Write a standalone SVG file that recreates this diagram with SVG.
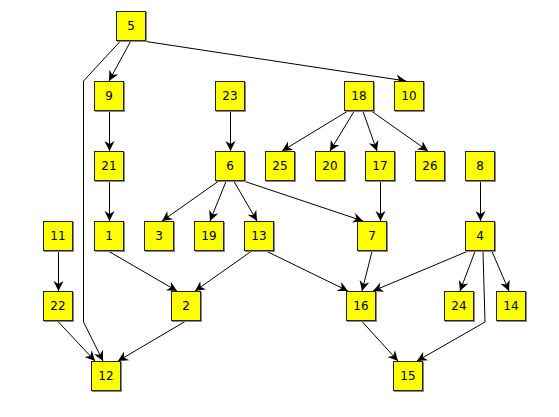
<svg xmlns="http://www.w3.org/2000/svg" width="559" height="417" viewBox="0 0 559 417">
<defs>
<marker id="arr" markerUnits="userSpaceOnUse" markerWidth="12" markerHeight="12" viewBox="-1 -6 12 12" refX="10" refY="0" orient="auto">
<path d="M0,-5 L10,0 L0,5 L3,0 z" fill="#000"/>
</marker>
</defs>
<style>
.n rect.s{fill:#888;stroke:none}
.n rect.b{fill:#ffff00;stroke:#222;stroke-width:1}
.n text{font-family:"DejaVu Sans",sans-serif;font-size:12px;fill:#000;text-anchor:middle;dominant-baseline:central}
#edges path,#edges line,#edges polyline{stroke:#000;stroke-width:1;fill:none}
#edges .a{marker-end:url(#arr)}
</style>
<rect width="559" height="417" fill="#fff"/>
<g id="edges">
<line class="a" x1="130.5" y1="41.5" x2="109" y2="81"/>
<polyline class="a" points="120,41.5 83.5,81 83.5,322 103,361"/>
<line class="a" x1="146" y1="41.5" x2="406" y2="81"/>
<line class="a" x1="109.5" y1="111" x2="109.5" y2="151"/>
<line class="a" x1="109.5" y1="181" x2="109.5" y2="221"/>
<line class="a" x1="230.5" y1="111" x2="230.5" y2="151"/>
<line class="a" x1="218" y1="181.5" x2="162" y2="221"/>
<line class="a" x1="226" y1="181.5" x2="210" y2="221"/>
<line class="a" x1="234" y1="181.5" x2="257" y2="221"/>
<line class="a" x1="245" y1="181.5" x2="363" y2="221"/>
<line class="a" x1="347" y1="111.5" x2="282" y2="151"/>
<line class="a" x1="354" y1="111.5" x2="330" y2="151"/>
<line class="a" x1="363" y1="111.5" x2="377" y2="151"/>
<line class="a" x1="372" y1="111.5" x2="428" y2="151"/>
<line class="a" x1="380.5" y1="181" x2="380.5" y2="221"/>
<line class="a" x1="480.5" y1="181" x2="480.5" y2="221"/>
<line class="a" x1="58.5" y1="251" x2="58.5" y2="291"/>
<line class="a" x1="109" y1="251.5" x2="177" y2="291"/>
<line class="a" x1="251" y1="251.5" x2="195" y2="291"/>
<line class="a" x1="267" y1="251.5" x2="348" y2="291"/>
<line class="a" x1="372" y1="251.5" x2="362" y2="291"/>
<line class="a" x1="467" y1="251.5" x2="373" y2="291"/>
<line class="a" x1="475" y1="251.5" x2="460" y2="291"/>
<line class="a" x1="492" y1="251.5" x2="509" y2="291"/>
<polyline class="a" points="483,251.5 485,322 417,361"/>
<line class="a" x1="362" y1="321.5" x2="398" y2="361"/>
<line class="a" x1="58" y1="321.5" x2="95" y2="361"/>
<line class="a" x1="185" y1="321.5" x2="118" y2="361"/>
</g>
<g id="n5" class="n"><rect class="s" x="117" y="12" width="30" height="30"/><rect class="b" x="116.5" y="11.5" width="29" height="29"/><text x="131" y="26">5</text></g>
<g id="n9" class="n"><rect class="s" x="95" y="82" width="30" height="30"/><rect class="b" x="94.5" y="81.5" width="29" height="29"/><text x="109" y="96">9</text></g>
<g id="n23" class="n"><rect class="s" x="216" y="82" width="30" height="30"/><rect class="b" x="215.5" y="81.5" width="29" height="29"/><text x="230" y="96">23</text></g>
<g id="n18" class="n"><rect class="s" x="345" y="82" width="30" height="30"/><rect class="b" x="344.5" y="81.5" width="29" height="29"/><text x="359" y="96">18</text></g>
<g id="n10" class="n"><rect class="s" x="395" y="82" width="30" height="30"/><rect class="b" x="394.5" y="81.5" width="29" height="29"/><text x="409" y="96">10</text></g>
<g id="n21" class="n"><rect class="s" x="95" y="152" width="30" height="30"/><rect class="b" x="94.5" y="151.5" width="29" height="29"/><text x="109" y="166">21</text></g>
<g id="n6" class="n"><rect class="s" x="216" y="152" width="30" height="30"/><rect class="b" x="215.5" y="151.5" width="29" height="29"/><text x="230" y="166">6</text></g>
<g id="n25" class="n"><rect class="s" x="266" y="152" width="30" height="30"/><rect class="b" x="265.5" y="151.5" width="29" height="29"/><text x="280" y="166">25</text></g>
<g id="n20" class="n"><rect class="s" x="316" y="152" width="30" height="30"/><rect class="b" x="315.5" y="151.5" width="29" height="29"/><text x="330" y="166">20</text></g>
<g id="n17" class="n"><rect class="s" x="366" y="152" width="30" height="30"/><rect class="b" x="365.5" y="151.5" width="29" height="29"/><text x="380" y="166">17</text></g>
<g id="n26" class="n"><rect class="s" x="416" y="152" width="30" height="30"/><rect class="b" x="415.5" y="151.5" width="29" height="29"/><text x="430" y="166">26</text></g>
<g id="n8" class="n"><rect class="s" x="466" y="152" width="30" height="30"/><rect class="b" x="465.5" y="151.5" width="29" height="29"/><text x="480" y="166">8</text></g>
<g id="n11" class="n"><rect class="s" x="44" y="222" width="30" height="30"/><rect class="b" x="43.5" y="221.5" width="29" height="29"/><text x="58" y="236">11</text></g>
<g id="n1" class="n"><rect class="s" x="95" y="222" width="30" height="30"/><rect class="b" x="94.5" y="221.5" width="29" height="29"/><text x="109" y="236">1</text></g>
<g id="n3" class="n"><rect class="s" x="145" y="222" width="30" height="30"/><rect class="b" x="144.5" y="221.5" width="29" height="29"/><text x="159" y="236">3</text></g>
<g id="n19" class="n"><rect class="s" x="195" y="222" width="30" height="30"/><rect class="b" x="194.5" y="221.5" width="29" height="29"/><text x="209" y="236">19</text></g>
<g id="n13" class="n"><rect class="s" x="245" y="222" width="30" height="30"/><rect class="b" x="244.5" y="221.5" width="29" height="29"/><text x="259" y="236">13</text></g>
<g id="n7" class="n"><rect class="s" x="358" y="222" width="30" height="30"/><rect class="b" x="357.5" y="221.5" width="29" height="29"/><text x="372" y="236">7</text></g>
<g id="n4" class="n"><rect class="s" x="466" y="222" width="30" height="30"/><rect class="b" x="465.5" y="221.5" width="29" height="29"/><text x="480" y="236">4</text></g>
<g id="n22" class="n"><rect class="s" x="44" y="292" width="30" height="30"/><rect class="b" x="43.5" y="291.5" width="29" height="29"/><text x="58" y="306">22</text></g>
<g id="n2" class="n"><rect class="s" x="172" y="292" width="30" height="30"/><rect class="b" x="171.5" y="291.5" width="29" height="29"/><text x="186" y="306">2</text></g>
<g id="n16" class="n"><rect class="s" x="347" y="292" width="30" height="30"/><rect class="b" x="346.5" y="291.5" width="29" height="29"/><text x="361" y="306">16</text></g>
<g id="n24" class="n"><rect class="s" x="445" y="292" width="30" height="30"/><rect class="b" x="444.5" y="291.5" width="29" height="29"/><text x="459" y="306">24</text></g>
<g id="n14" class="n"><rect class="s" x="497" y="292" width="30" height="30"/><rect class="b" x="496.5" y="291.5" width="29" height="29"/><text x="511" y="306">14</text></g>
<g id="n12" class="n"><rect class="s" x="92" y="362" width="30" height="30"/><rect class="b" x="91.5" y="361.5" width="29" height="29"/><text x="106" y="376">12</text></g>
<g id="n15" class="n"><rect class="s" x="394" y="362" width="30" height="30"/><rect class="b" x="393.5" y="361.5" width="29" height="29"/><text x="408" y="376">15</text></g>
</svg>
